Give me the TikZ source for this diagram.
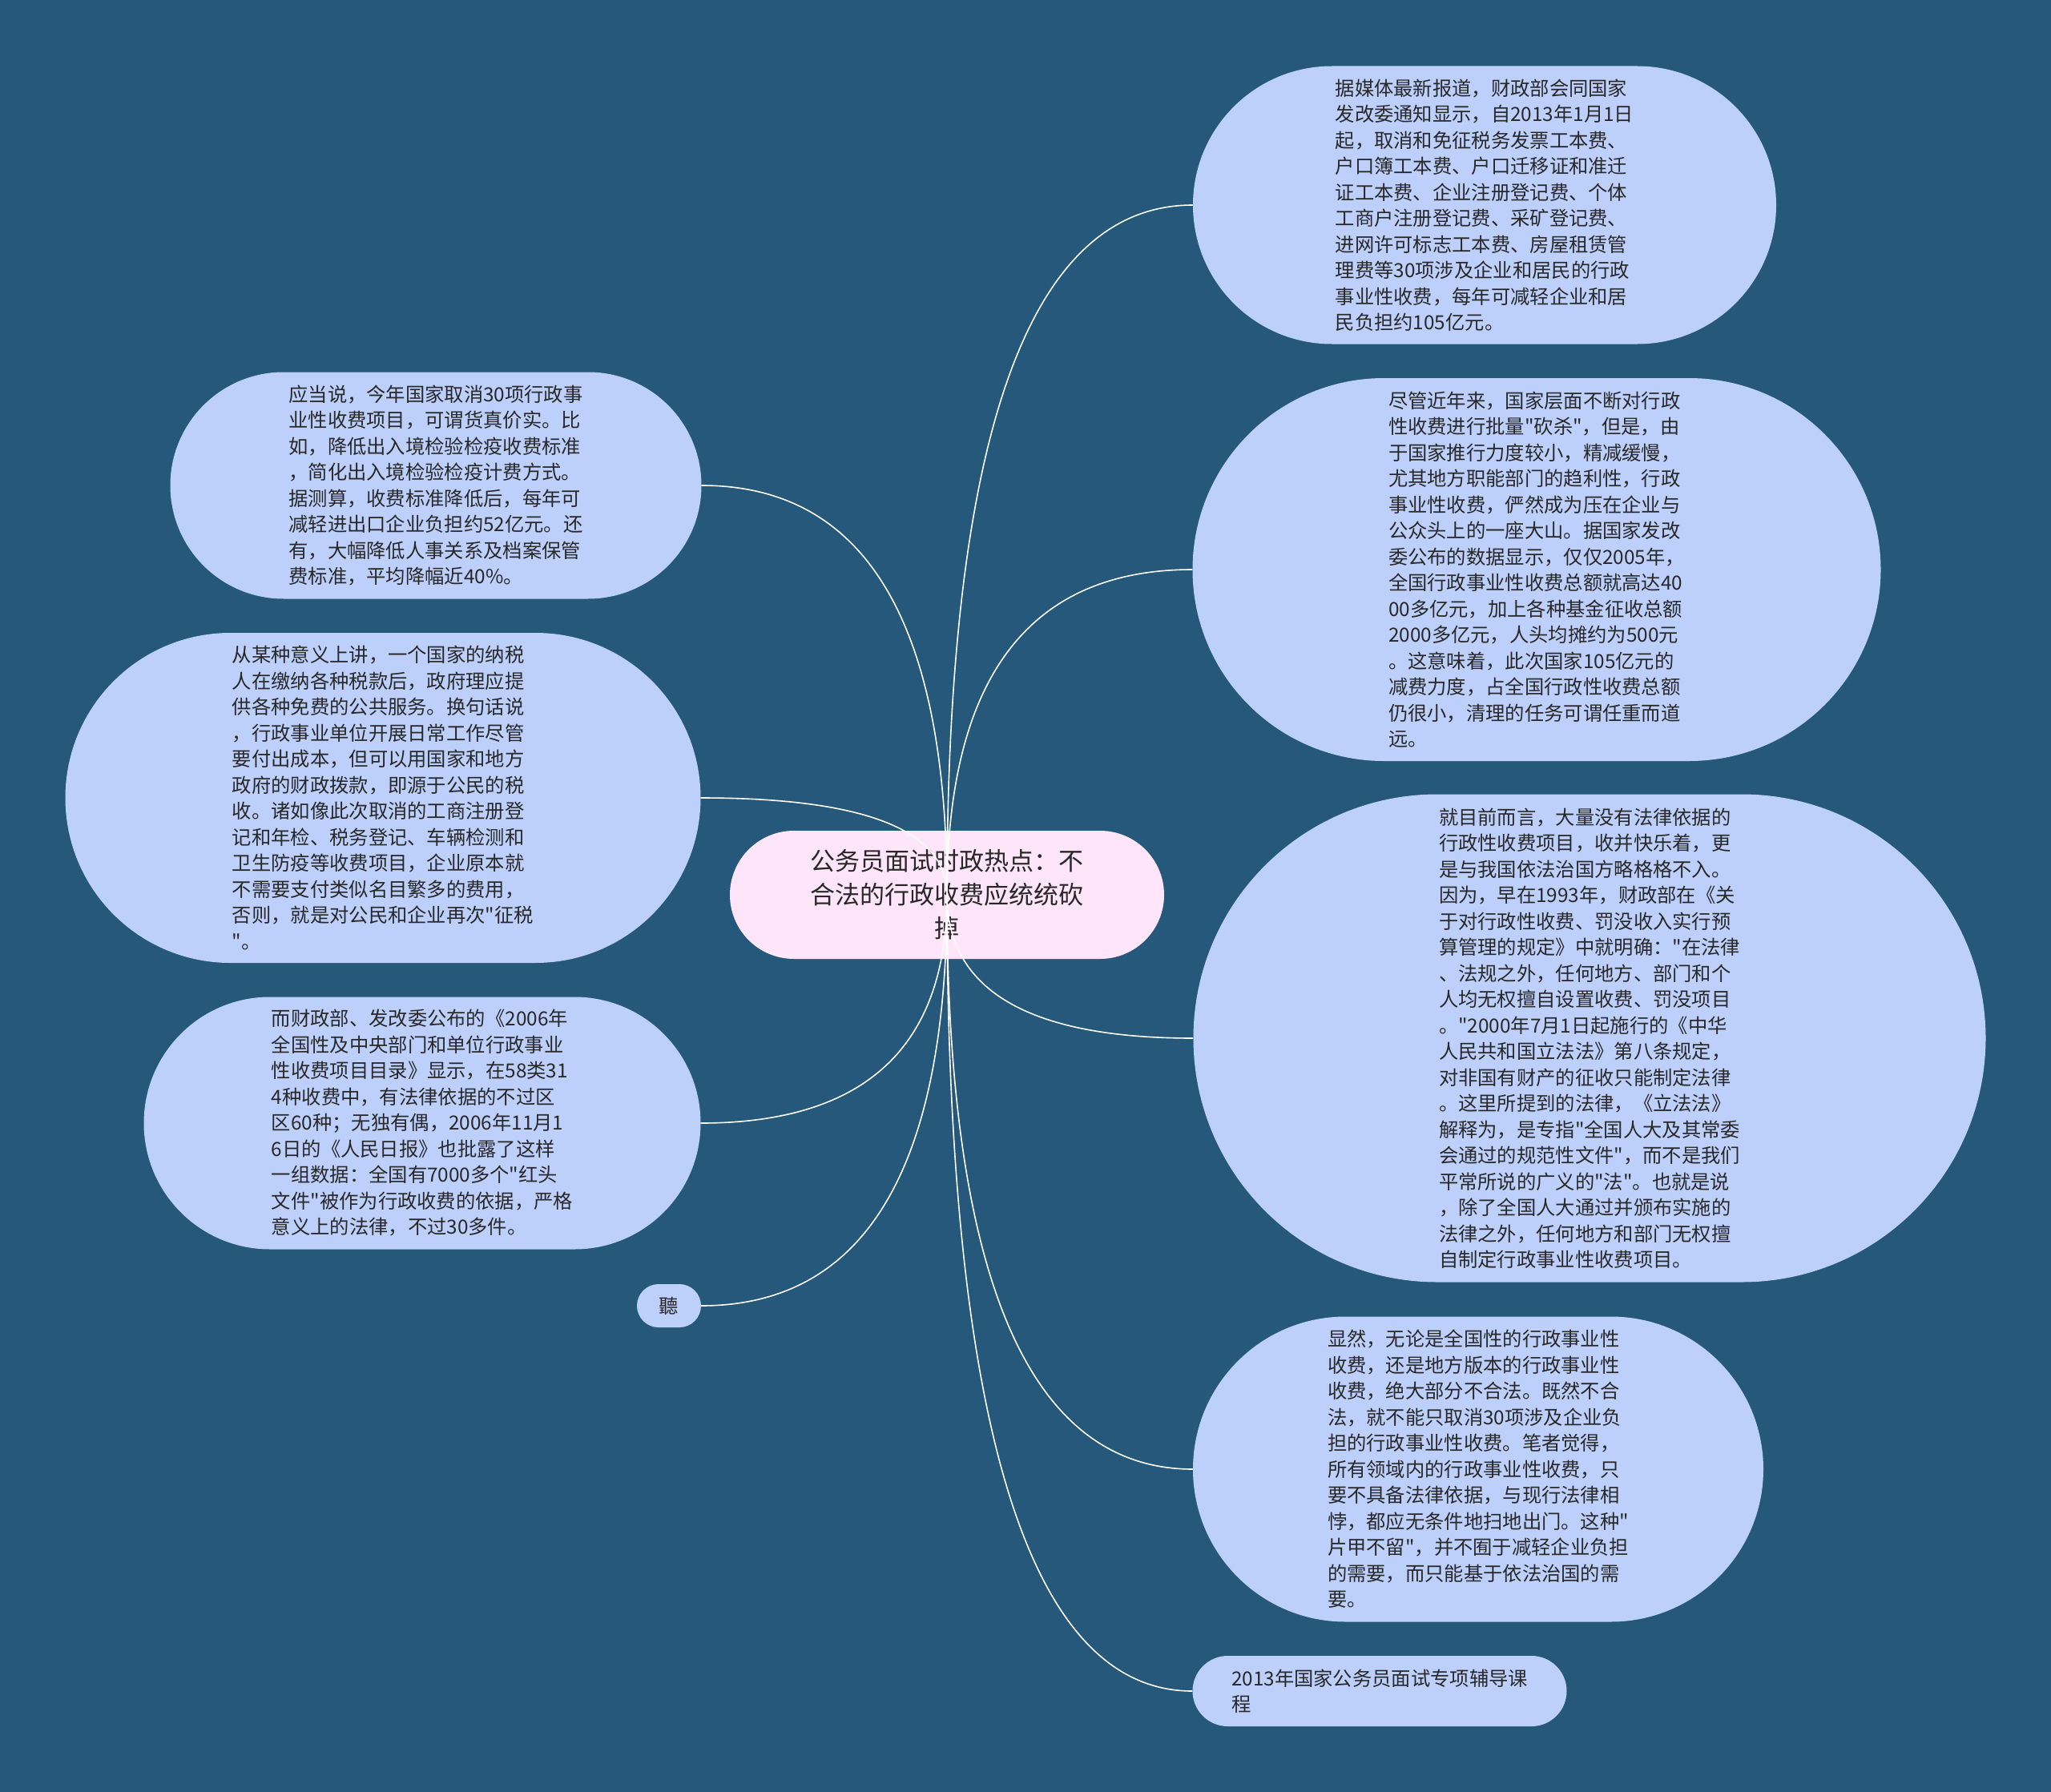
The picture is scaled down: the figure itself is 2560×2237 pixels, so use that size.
\documentclass[tikz,border=0pt]{standalone}
\usepackage{fontspec}
\setmainfont{Noto Sans CJK SC}[Ligatures=TeXOff]
\usepackage{tikz}
\usetikzlibrary{calc}
\definecolor{canvas}{RGB}{37,88,122}
\definecolor{leafblue}{RGB}{189,207,251}
\definecolor{rootpink}{RGB}{255,229,250}
\definecolor{ink}{RGB}{40,40,40}

\begin{document}
\begin{tikzpicture}[
  x=1pt, y=-1pt,
  every node/.style={font=\fontsize{24.3pt}{32.5pt}\selectfont, text=ink},
  leaf/.style n args={2}{rectangle, fill=leafblue, align=left, inner sep=0pt,
    minimum width=#1pt, minimum height=#2pt, rounded corners=#2pt/2},
  root/.style={rectangle, fill=rootpink, align=center, inner sep=0pt,
    minimum width=542pt, minimum height=160pt, rounded corners=80pt,
    font=\fontsize{31pt}{42pt}\selectfont},
  branch/.style={white, line width=1.6pt}
]
  \useasboundingbox (0,0) rectangle (2560,2237);
  \fill[canvas] (0,0) rectangle (2560,2237);

  \node[root] (root) at (1182,1117) {公务员面试时政热点：不\\合法的行政收费应统统砍\\掉};

  \node[leaf={728}{347}] (r1) at (1853,256) {据媒体最新报道，财政部会同国家\\发改委通知显示，自2013年1月1日\\起，取消和免征税务发票工本费、\\户口簿工本费、户口迁移证和准迁\\证工本费、企业注册登记费、个体\\工商户注册登记费、采矿登记费、\\进网许可标志工本费、房屋租赁管\\理费等30项涉及企业和居民的行政\\事业性收费，每年可减轻企业和居\\民负担约105亿元。};
  \node[leaf={859}{478}] (r2) at (1918,711) {尽管近年来，国家层面不断对行政\\性收费进行批量"砍杀"，但是，由\\于国家推行力度较小，精减缓慢，\\尤其地方职能部门的趋利性，行政\\事业性收费，俨然成为压在企业与\\公众头上的一座大山。据国家发改\\委公布的数据显示，仅仅2005年，\\全国行政事业性收费总额就高达40\\00多亿元，加上各种基金征收总额\\2000多亿元，人头均摊约为500元\\。这意味着，此次国家105亿元的\\减费力度，占全国行政性收费总额\\仍很小，清理的任务可谓任重而道\\远。};
  \node[leaf={989}{609}] (r3) at (1984,1296) {就目前而言，大量没有法律依据的\\行政性收费项目，收并快乐着，更\\是与我国依法治国方略格格不入。\\因为，早在1993年，财政部在《关\\于对行政性收费、罚没收入实行预\\算管理的规定》中就明确："在法律\\、法规之外，任何地方、部门和个\\人均无权擅自设置收费、罚没项目\\。"2000年7月1日起施行的《中华\\人民共和国立法法》第八条规定，\\对非国有财产的征收只能制定法律\\。这里所提到的法律，《立法法》\\解释为，是专指"全国人大及其常委\\会通过的规范性文件"，而不是我们\\平常所说的广义的"法"。也就是说\\，除了全国人大通过并颁布实施的\\法律之外，任何地方和部门无权擅\\自制定行政事业性收费项目。};
  \node[leaf={712}{381}] (r4) at (1845,1834) {显然，无论是全国性的行政事业性\\收费，还是地方版本的行政事业性\\收费，绝大部分不合法。既然不合\\法，就不能只取消30项涉及企业负\\担的行政事业性收费。笔者觉得，\\所有领域内的行政事业性收费，只\\要不具备法律依据，与现行法律相\\悖，都应无条件地扫地出门。这种"\\片甲不留"，并不囿于减轻企业负担\\的需要，而只能基于依法治国的需\\要。};
  \node[leaf={467}{88}] (r5) at (1722,2111) {2013年国家公务员面试专项辅导课\\程};

  \node[leaf={663}{283}] (l1) at (544,606) {应当说，今年国家取消30项行政事\\业性收费项目，可谓货真价实。比\\如，降低出入境检验检疫收费标准\\，简化出入境检验检疫计费方式。\\据测算，收费标准降低后，每年可\\减轻进出口企业负担约52亿元。还\\有，大幅降低人事关系及档案保管\\费标准，平均降幅近40\%。};
  \node[leaf={793}{412}] (l2) at (478,996) {从某种意义上讲，一个国家的纳税\\人在缴纳各种税款后，政府理应提\\供各种免费的公共服务。换句话说\\，行政事业单位开展日常工作尽管\\要付出成本，但可以用国家和地方\\政府的财政拨款，即源于公民的税\\收。诸如像此次取消的工商注册登\\记和年检、税务登记、车辆检测和\\卫生防疫等收费项目，企业原本就\\不需要支付类似名目繁多的费用，\\否则，就是对公民和企业再次"征税\\"。};
  \node[leaf={695}{315}] (l3) at (527,1402) {而财政部、发改委公布的《2006年\\全国性及中央部门和单位行政事业\\性收费项目目录》显示，在58类31\\4种收费中，有法律依据的不过区\\区60种；无独有偶，2006年11月1\\6日的《人民日报》也批露了这样\\一组数据：全国有7000多个"红头\\文件"被作为行政收费的依据，严格\\意义上的法律，不过30多件。};
  \node[leaf={80}{54}] (l4) at (835,1630) {聽};

  \foreach \n/\a in {r1/west, r2/west, r3/west, r4/west, r5/west,
                     l1/east, l2/east, l3/east, l4/east}
    \draw[branch] (root.center)
      .. controls ($(root.center)!2/3!(root.center |- \n.\a)$)
      and ($(\n.\a)!2/3!(root.center |- \n.\a)$) .. (\n.\a);
\end{tikzpicture}
\end{document}
